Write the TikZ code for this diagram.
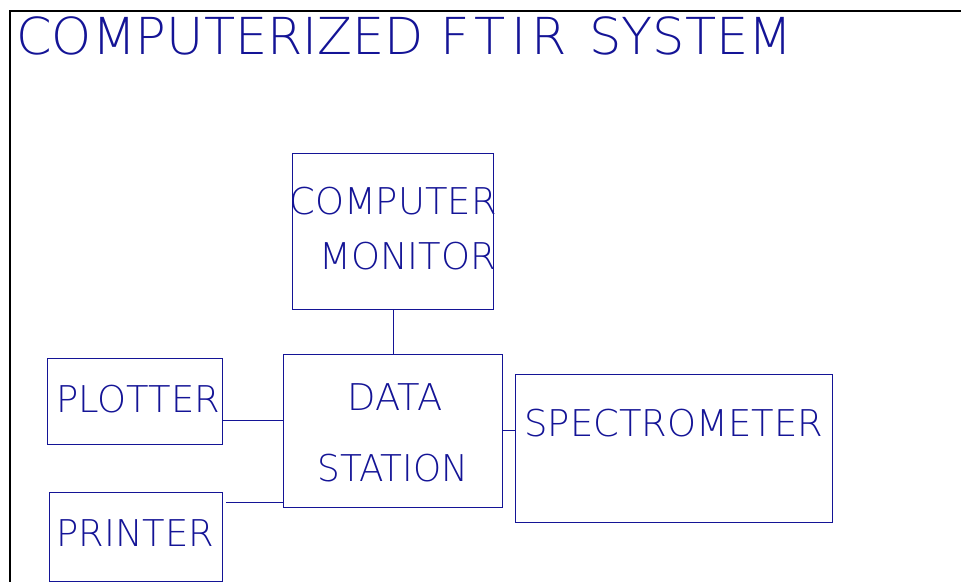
\documentclass[tikz,border=0pt]{standalone}
\usepackage{fontspec}
\newfontfamily\cadfont{DejaVuSans-ExtraLight}[Extension=.ttf]
\definecolor{cadblue}{RGB}{20,20,150}
\tikzset{
	blk/.style={draw=cadblue,thin,inner sep=0pt,anchor=north west},
	lbl/.style={text=cadblue,inner sep=0pt,anchor=north west,font=\cadfont\fontsize{21}{21}\selectfont}
}
\begin{document}
\begin{tikzpicture}[x=0.02cm,y=-0.02cm]
				\useasboundingbox (0,0) rectangle (961,582);
				\draw[line width=1.2pt] (10,582) -- (10,11) -- (961,11);
				\path (16,16) node[lbl,font=\cadfont\fontsize{29}{29}\selectfont] (title) {COMPUTERIZED {\addfontfeature{LetterSpace=11}FTIR}\hspace{0.12em} SYSTEM};
				% boxes
				\path (292,153) node[blk,minimum width=201*0.02cm,minimum height=156*0.02cm] (mon) {};
				\path (283,354) node[blk,minimum width=219*0.02cm,minimum height=153*0.02cm] (data) {};
				\path (47,358) node[blk,minimum width=175*0.02cm,minimum height=86*0.02cm] (plot) {};
				\path (49,492) node[blk,minimum width=173*0.02cm,minimum height=89*0.02cm] (print) {};
				\path (515,374) node[blk,minimum width=317*0.02cm,minimum height=148*0.02cm] (spec) {};
				% texts
				\path (289,187) node[lbl] (t1) {COMPUTER};
				\path (319,242) node[lbl] (t2) {MONITOR};
				\path (347,383) node[lbl] (t3) {DATA};
				\path (317,454) node[lbl,xscale=0.97] (t4) {STATION};
				\path (56,385) node[lbl] (t5) {PLOTTER};
				\path (56,519) node[lbl] (t6) {PRINTER};
				\path (524,409) node[lbl] (t7) {SPECTROMETER};
				% links
				\draw[cadblue,thin] (mon.south) -- (data.north);
				\draw[cadblue,thin] (plot.east |- 0,420) -- (data.west |- 0,420);
				\draw[cadblue,thin] (226,502) -- (data.west |- 0,502);
				\draw[cadblue,thin] (data.east |- 0,430) -- (spec.west |- 0,430);
			\end{tikzpicture}
\end{document}
